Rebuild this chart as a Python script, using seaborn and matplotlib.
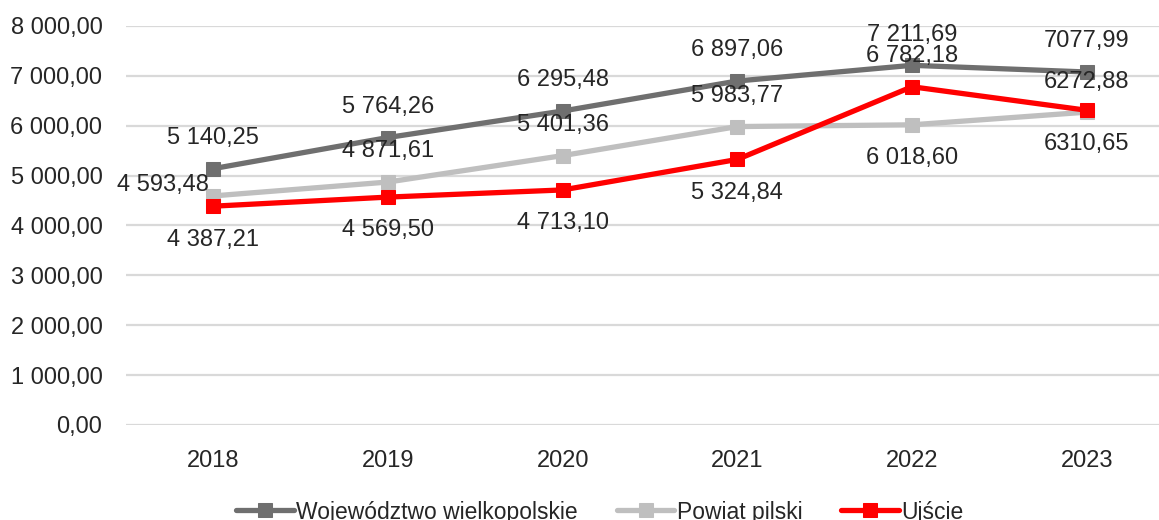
import matplotlib
matplotlib.use("Agg")
import matplotlib.pyplot as plt
import seaborn as sns

# dane
years = ["2018", "2019", "2020", "2021", "2022", "2023"]
wojewodztwo = [5140.25, 5764.26, 6295.48, 6897.06, 7211.69, 7077.99]
powiat = [4593.48, 4871.61, 5401.36, 5983.77, 6018.60, 6272.88]
ujscie = [4387.21, 4569.50, 4713.10, 5324.84, 6782.18, 6310.65]
series_names = ["Województwo wielkopolskie", "Powiat pilski", "Ujście"]
y_ticks = [0, 1000, 2000, 3000, 4000, 5000, 6000, 7000, 8000]
no_space_years = ["2023"]


def fmt(v, group=True):
    s = f"{v:,.2f}" if group else f"{v:.2f}"
    return s.replace(",", " ").replace(".", ",")


sns.set_style("white")
plt.rcParams["font.family"] = ["Liberation Sans", "DejaVu Sans"]

fig = plt.figure(figsize=(11.59, 5.2), dpi=100)
ax = fig.add_axes([126 / 1159, 95 / 520, 1048 / 1159, 399 / 520])

colors = ["#6F6F6F", "#BFBFBF", "#FF0000"]
values = [wojewodztwo, powiat, ujscie]
x = list(range(len(years)))

# pozycje etykiet: (dx, dy) w punktach
label_pos = [
    [(0, 22)] * 6,
    [(-34, 8), (0, 22), (0, 22), (0, 22), (0, -24), (0, 22)],
    [(0, -24), (0, -24), (0, -24), (0, -24), (0, 22), (0, -24)],
]

for name, vals, col, pos in zip(series_names, values, colors, label_pos):
    sns.lineplot(x=x, y=vals, ax=ax, color=col, linewidth=3.8, marker="s",
                 markersize=10, markeredgecolor=col, label=name, zorder=3)
    for xi, yr, v, (dx, dy) in zip(x, years, vals, pos):
        ha = "right" if dx < 0 else "center"
        ax.annotate(fmt(v, yr not in no_space_years), (xi, v),
                    xytext=(dx if dx >= 0 else -3, dy), textcoords="offset points",
                    ha=ha, va="center", fontsize=17, color="#262626", zorder=5)

ax.set_xlim(-0.5, 5.5)
ax.set_ylim(0, 8000)
ax.set_yticks(y_ticks)
ax.set_yticklabels([fmt(t) for t in y_ticks])
ax.set_xticks(x)
ax.set_xticklabels(years)
ax.tick_params(axis="both", length=0, labelsize=17, labelcolor="#262626")
ax.tick_params(axis="y", pad=17)
ax.tick_params(axis="x", pad=18)
ax.yaxis.grid(True, color="#D9D9D9", linewidth=1.6)
ax.set_axisbelow(True)
for sp in ax.spines.values():
    sp.set_visible(False)
ax.set_xlabel("")
ax.set_ylabel("")

h, l = ax.get_legend_handles_labels()
ax.get_legend().remove()
fig.legend(h, l, loc="center", bbox_to_anchor=(600 / 1159, 8 / 520), ncol=3,
           frameon=False, handlelength=2.5, columnspacing=1.7, handletextpad=0.12,
           prop={"size": 16.5}, labelcolor="#262626")

fig.savefig("out.png", dpi=100)
